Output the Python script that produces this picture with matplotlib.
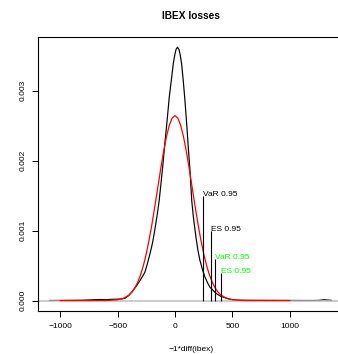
import matplotlib
matplotlib.use("Agg")
import matplotlib.pyplot as plt
from matplotlib.ticker import FixedLocator, FormatStrFormatter

plt.rcParams['font.family'] = ['Liberation Sans', 'DejaVu Sans']

emp_x = [-1092, -1000, -900, -800, -700, -650, -600, -550, -500, -470, -436,
         -405, -378, -340, -305, -285, -262, -240, -218, -195, -180, -166,
         -150, -137, -124, -111, -102, -85, -67, -50, -32, -15, 0, 10, 22,
         34, 44, 58, 72, 87, 102, 116, 131, 146, 160, 183, 200, 218, 240,
         262, 285, 305, 335, 364, 400, 451, 500, 550, 600, 700, 800, 900,
         1000, 1100, 1200, 1250, 1300, 1366]
emp_y = [0.000001, 0.000002, 0.000003, 0.000005, 0.000012, 0.000015, 0.000012,
         0.000018, 0.000020, 0.000022, 0.000033, 0.000070, 0.000119, 0.000200,
         0.000286, 0.000340, 0.000405, 0.000530, 0.000667, 0.000830, 0.000970,
         0.001110, 0.001280, 0.001440, 0.001640, 0.001850, 0.002000, 0.002300,
         0.002600, 0.002904, 0.003143, 0.003381, 0.003524, 0.003590, 0.003620,
         0.003590, 0.003524, 0.003381, 0.003143, 0.002857, 0.002524, 0.002190,
         0.001857, 0.001429, 0.001200, 0.000904, 0.000720, 0.000571, 0.000440,
         0.000333, 0.000250, 0.000190, 0.000140, 0.000096, 0.000060, 0.000033,
         0.000012, 0.000006, 0.000004, 0.000003, 0.000003, 0.000002, 0.000002,
         0.000001, 0.000001, 0.000002, 0.000012, 0.000002]

# fitted normal density (red)
fit_x = [-1000, -800, -600, -500, -450, -400, -375, -350, -325, -300, -275,
         -250, -225, -200, -175, -150, -125, -100, -75, -50, -25, 0, 25, 50,
         75, 100, 125, 150, 175, 200, 225, 250, 275, 300, 325, 350, 375, 400,
         450, 500, 600, 800, 1000]
fit_y = [0.0, 0.0, 0.000001, 0.000011, 0.000031, 0.000079, 0.000121, 0.000180,
         0.000261, 0.000367, 0.000503, 0.000671, 0.000871, 0.001099, 0.001350,
         0.001613, 0.001876, 0.002122, 0.002335, 0.002501, 0.002606, 0.002642,
         0.002606, 0.002501, 0.002335, 0.002122, 0.001876, 0.001613, 0.001350,
         0.001099, 0.000871, 0.000671, 0.000503, 0.000367, 0.000261, 0.000180,
         0.000121, 0.000079, 0.000031, 0.000011, 0.000001, 0.0, 0.0]

# risk measures: position, line height, label, colour
risk_x = [247, 311, 351, 401]
risk_h = [0.0015, 0.001, 0.0006, 0.0004]
risk_labels = ['VaR 0.95', 'ES 0.95', 'VaR 0.95', 'ES 0.95']
risk_colors = ['black', 'black', '#00ff00', '#00ff00']

x_ticks = [-1000, -500, 0, 500, 1000]
y_ticks = [0.000, 0.001, 0.002, 0.003]

fig = plt.figure(figsize=(3.38, 3.54), dpi=100)
ax = fig.add_axes([0.1139, 0.1223, 0.9009, 0.7732])

# zero line sits on top of the empirical curve, under the fitted one
ax.plot(emp_x, emp_y, color='black', lw=0.85, zorder=1)
ax.axhline(0, color='#bebebe', lw=1.1, zorder=2)
ax.plot(fit_x, fit_y, color='red', lw=0.9, zorder=3)

for x, h, lab, c in zip(risk_x, risk_h, risk_labels, risk_colors):
    ax.vlines(x, 0, h, color='black', lw=0.8, zorder=4)
    ax.text(x, h, lab, color=c, fontsize=6, ha='left', va='baseline')

ax.set_xlim(-1190, 1465)
ax.set_ylim(-0.000145, 0.003765)
ax.xaxis.set_major_locator(FixedLocator(x_ticks))
ax.yaxis.set_major_locator(FixedLocator(y_ticks))
ax.yaxis.set_major_formatter(FormatStrFormatter('%.3f'))
ax.tick_params(axis='both', direction='out', length=4.3, width=0.7,
               labelsize=6, pad=4.5)
ax.tick_params(axis='y', pad=4)
for lab in ax.get_yticklabels():
    lab.set_rotation(90)
    lab.set_va('center')

ax.spines['right'].set_visible(False)
for s in ['left', 'top', 'bottom']:
    ax.spines[s].set_linewidth(0.8)

ax.set_xlabel('\u22121*diff(ibex)', fontsize=6, labelpad=11.5)
ax.set_title('IBEX losses', fontsize=7.3, fontweight='bold', pad=13)

fig.savefig('out.png', dpi=100)
